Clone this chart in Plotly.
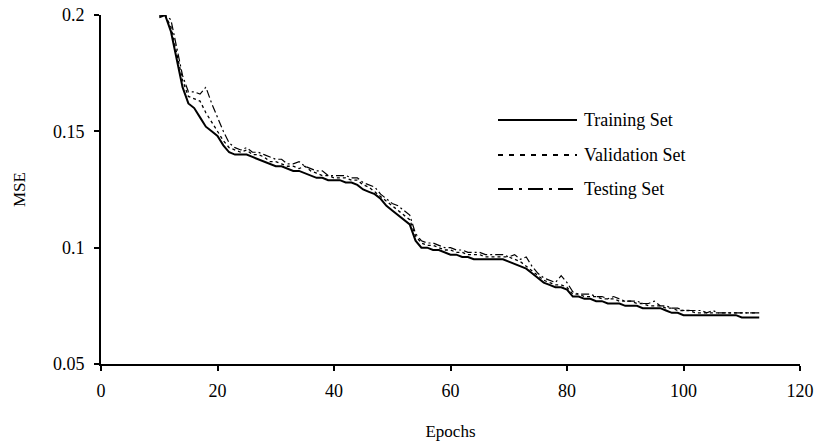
import plotly.graph_objects as go

epochs = list(range(10, 114))

training = [0.199, 0.200, 0.193, 0.181, 0.169, 0.162, 0.160, 0.156, 0.152, 0.150,
            0.148, 0.144, 0.141, 0.140, 0.140, 0.140, 0.139, 0.138, 0.137, 0.136,
            0.135, 0.135, 0.134, 0.133, 0.133, 0.132, 0.131, 0.130, 0.130, 0.129,
            0.129, 0.129, 0.128, 0.128, 0.127, 0.125, 0.124, 0.123, 0.121, 0.118,
            0.116, 0.114, 0.112, 0.110, 0.103, 0.100, 0.100, 0.099, 0.099, 0.098,
            0.097, 0.097, 0.096, 0.096, 0.095, 0.095, 0.095, 0.095, 0.095, 0.095,
            0.094, 0.093, 0.092, 0.091, 0.089, 0.087, 0.085, 0.084, 0.083, 0.083,
            0.082, 0.079, 0.079, 0.078, 0.078, 0.077, 0.077, 0.076, 0.076, 0.076,
            0.075, 0.075, 0.075, 0.074, 0.074, 0.074, 0.074, 0.073, 0.072, 0.072,
            0.071, 0.071, 0.071, 0.071, 0.071, 0.071, 0.071, 0.071, 0.071, 0.071,
            0.070, 0.070, 0.070, 0.070]

validation = [0.200, 0.200, 0.195, 0.183, 0.172, 0.165, 0.164, 0.163, 0.158, 0.154,
              0.150, 0.146, 0.143, 0.142, 0.141, 0.142, 0.140, 0.140, 0.139, 0.137,
              0.137, 0.136, 0.135, 0.135, 0.134, 0.135, 0.133, 0.132, 0.131, 0.131,
              0.130, 0.130, 0.130, 0.129, 0.129, 0.127, 0.126, 0.124, 0.122, 0.120,
              0.118, 0.116, 0.114, 0.112, 0.105, 0.102, 0.101, 0.101, 0.100, 0.099,
              0.099, 0.098, 0.098, 0.097, 0.097, 0.097, 0.096, 0.096, 0.096, 0.096,
              0.096, 0.095, 0.094, 0.092, 0.090, 0.088, 0.086, 0.085, 0.084, 0.084,
              0.083, 0.080, 0.080, 0.079, 0.079, 0.079, 0.078, 0.078, 0.078, 0.077,
              0.077, 0.077, 0.076, 0.076, 0.075, 0.075, 0.075, 0.074, 0.074, 0.073,
              0.073, 0.073, 0.072, 0.072, 0.072, 0.072, 0.072, 0.072, 0.072, 0.072,
              0.072, 0.072, 0.072, 0.072]

testing = [0.200, 0.200, 0.198, 0.186, 0.174, 0.167, 0.167, 0.166, 0.169, 0.162,
           0.156, 0.150, 0.145, 0.143, 0.142, 0.143, 0.141, 0.141, 0.140, 0.139,
           0.138, 0.138, 0.136, 0.136, 0.137, 0.135, 0.134, 0.133, 0.133, 0.131,
           0.131, 0.131, 0.131, 0.130, 0.130, 0.128, 0.127, 0.126, 0.123, 0.121,
           0.119, 0.118, 0.116, 0.114, 0.106, 0.103, 0.102, 0.102, 0.101, 0.100,
           0.100, 0.099, 0.099, 0.098, 0.098, 0.098, 0.097, 0.097, 0.097, 0.097,
           0.096, 0.097, 0.095, 0.096, 0.092, 0.089, 0.087, 0.086, 0.085, 0.088,
           0.085, 0.081, 0.080, 0.080, 0.080, 0.079, 0.079, 0.078, 0.079, 0.078,
           0.077, 0.077, 0.077, 0.076, 0.076, 0.077, 0.075, 0.075, 0.074, 0.074,
           0.073, 0.073, 0.073, 0.073, 0.072, 0.073, 0.072, 0.072, 0.072, 0.072,
           0.072, 0.072, 0.072, 0.072]

series_names = ["Training Set", "Validation Set", "Testing Set"]
y_tick_vals = [0.05, 0.1, 0.15, 0.2]
y_tick_text = ["0.05", "0.1", "0.15", "0.2"]
x_tick_vals = [0, 20, 40, 60, 80, 100, 120]

FONT = "Liberation Serif"
plot_styles = [dict(dash="solid", width=2),
               dict(dash="3px,3px", width=1.3),
               dict(dash="8px,3px,2px,3px", width=1.2)]
legend_dash = ["solid", "5px,6px", "15px,6px,3px,6px"]

fig = go.Figure()
for name, ys, st in zip(series_names, [training, validation, testing], plot_styles):
    fig.add_trace(go.Scatter(x=epochs, y=ys, mode="lines", name=name,
                             line=dict(color="black", width=st["width"], dash=st["dash"]),
                             showlegend=False))

# manual legend (long line samples like the original)
W, H = 819, 447
L, R, T, B = 101, 19, 15, 83
pw, ph = W - L - R, H - T - B
def px2paper_x(px):
    return (px - L) / pw
def px2paper_y(py):
    return 1 - (py - T) / ph

leg_y = [120, 155, 189]
for name, yy, d in zip(series_names, leg_y, legend_dash):
    fig.add_shape(type="line", xref="paper", yref="paper",
                  x0=px2paper_x(498), x1=px2paper_x(577),
                  y0=px2paper_y(yy), y1=px2paper_y(yy),
                  line=dict(color="black", width=2, dash=d))
    fig.add_annotation(xref="paper", yref="paper", x=px2paper_x(582), y=px2paper_y(yy),
                       text=name, showarrow=False, xanchor="left", yanchor="middle",
                       font=dict(family=FONT, size=18, color="black"))

fig.update_layout(
    width=W, height=H,
    margin=dict(l=L, r=R, t=T, b=B),
    paper_bgcolor="white", plot_bgcolor="white",
    font=dict(family=FONT, size=18, color="black"),
    xaxis=dict(range=[0, 120], tickvals=x_tick_vals, ticks="outside", ticklen=5,
               tickwidth=1.5, tickcolor="black", showline=True, linecolor="black",
               linewidth=2, showgrid=False, zeroline=False, ticklabelstandoff=4,
               automargin=False,
               title=dict(text="Epochs", font=dict(family=FONT, size=17), standoff=26)),
    yaxis=dict(range=[0.05, 0.2], tickvals=y_tick_vals, ticktext=y_tick_text,
               ticks="outside", ticklen=5, tickwidth=1.5, tickcolor="black",
               showline=True, linecolor="black", linewidth=2, showgrid=False,
               zeroline=False, ticklabelstandoff=6, automargin=False,
               title=dict(text="MSE", font=dict(family=FONT, size=17), standoff=23)),
)

fig.write_html("out.html")
